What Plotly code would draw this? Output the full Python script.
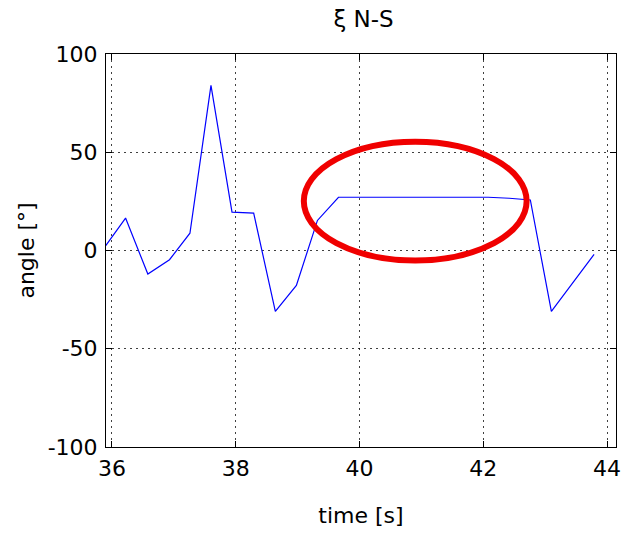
import plotly.graph_objects as go

# data
time_s = [35.90, 36.22, 36.58, 36.93, 37.26, 37.60, 37.94, 38.29, 38.64, 38.98, 39.32,
          39.66, 40.00, 40.35, 40.70, 41.04, 41.39, 41.73, 42.08, 42.42, 42.76, 43.10, 43.79]
angle_deg = [2.5, 16.5, -12.0, -4.7, 8.8, 84.0, 19.5, 19.0, -31.0, -17.8, 15.3,
             27.1, 27.1, 27.1, 27.1, 27.1, 27.1, 27.1, 27.1, 26.6, 25.7, -31.0, -2.0]

x_ticks = [36, 38, 40, 42, 44]
y_ticks = [-100, -50, 0, 50, 100]
x_range = [35.904, 44.144]
y_range = [-100, 100]

# red highlight ellipse (data units)
ellipse_x = [39.10, 42.70]
ellipse_y = [-5.1, 55.4]

FONT = "DejaVu Sans, Liberation Sans, sans-serif"

fig = go.Figure()
fig.add_trace(go.Scatter(x=time_s, y=angle_deg, mode="lines",
                         line=dict(color="rgb(0,0,255)", width=1.2),
                         showlegend=False, hoverinfo="skip"))

fig.add_shape(type="circle", xref="x", yref="y",
              x0=ellipse_x[0], x1=ellipse_x[1], y0=ellipse_y[0], y1=ellipse_y[1],
              line=dict(color="rgb(240,0,0)", width=6))

axis_common = dict(
    showline=True, linecolor="black", linewidth=1, mirror="ticks",
    ticks="inside", ticklen=6, tickcolor="black", tickwidth=1,
    showgrid=True, gridcolor="rgba(0,0,0,0.75)", gridwidth=1, griddash="2px,4px",
    zeroline=False, tickfont=dict(family=FONT, size=22, color="black"),
)

fig.update_xaxes(range=x_range, tickvals=x_ticks, ticktext=[str(v) for v in x_ticks],
                 title=dict(text="time [s]", font=dict(family=FONT, size=22, color="black"),
                            standoff=27),
                 ticklabelstandoff=2, **axis_common)
fig.update_yaxes(range=y_range, tickvals=y_ticks, ticktext=[str(v) for v in y_ticks],
                 title=dict(text="angle [°]", font=dict(family=FONT, size=22, color="black"),
                            standoff=6),
                 ticklabelstandoff=3, **axis_common)

fig.update_layout(
    width=629, height=536,
    margin=dict(l=106, r=8, t=54, b=89),
    paper_bgcolor="white", plot_bgcolor="white",
    title=dict(text="ξ N-S", x=(106 + 621) / 2 / 629, xanchor="center",
               y=1 - 19 / 536, yanchor="middle", yref="container",
               font=dict(family=FONT, size=23, color="black")),
)

fig.write_html("out.html")
